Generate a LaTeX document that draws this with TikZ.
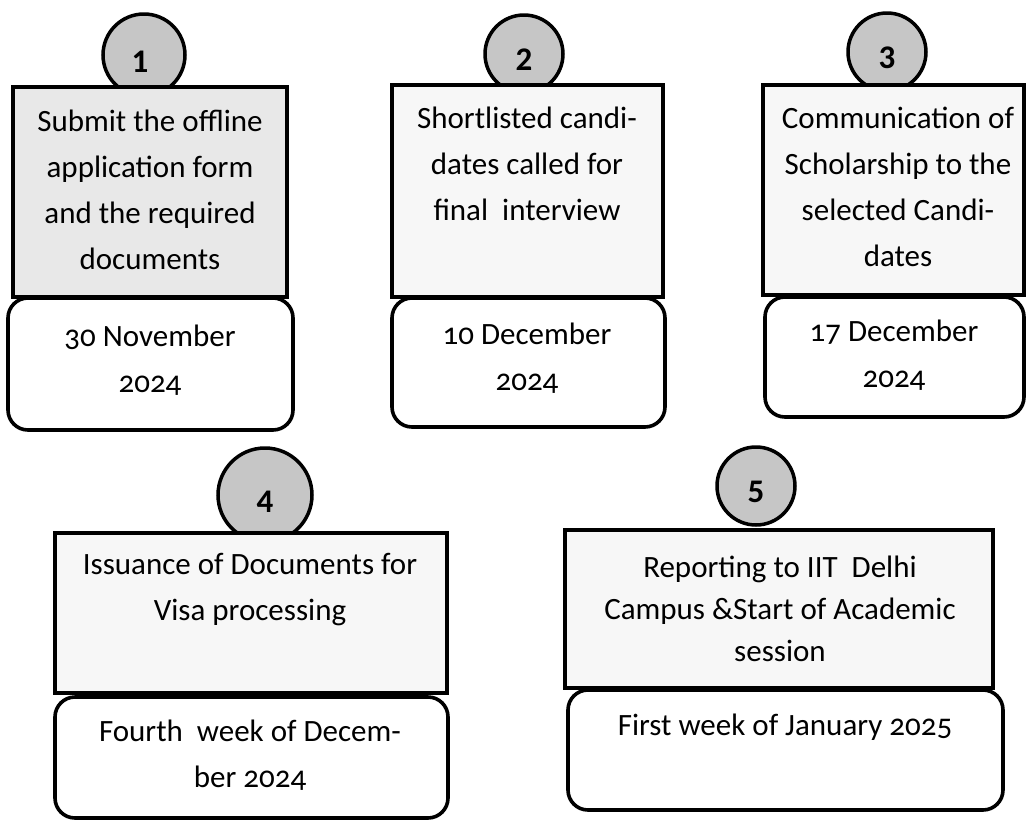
\documentclass[tikz,border=0pt]{standalone}
\usepackage{fontspec}
\setmainfont{Carlito}[Numbers=OldStyle]
\definecolor{circfill}{HTML}{C6C6C6}
\definecolor{boxone}{HTML}{E8E8E8}
\definecolor{boxrest}{HTML}{F7F7F7}
\tikzset{
  numcirc/.style={circle, draw=black, line width=3.5pt, fill=circfill, inner sep=0pt},
  digit/.style={font=\bfseries\fontsize{33}{33}\selectfont\addfontfeatures{Numbers=Lining}, inner sep=0pt},
  taskbox/.style={draw=black, line width=4pt, fill=boxrest, inner sep=0pt},
  datebox/.style={draw=black, line width=3.6pt, rounded corners=20pt, fill=white, inner sep=0pt},
  txt/.style={align=center, inner sep=0pt, font=\fontsize{31}{46}\selectfont},
  txtb/.style={align=center, inner sep=0pt, font=\fontsize{31}{42}\selectfont},
}
\begin{document}
\begin{tikzpicture}[x=1pt,y=-1pt]
\useasboundingbox (0,0) rectangle (1026,820);
\fill[white] (0,0) rectangle (1026,820);

% ---------- Step 1 ----------
\node[numcirc, minimum size=82pt] (c1) at (144,55) {};
\node[digit] (n1) at ([xshift=-4pt,yshift=-7pt]c1.center) {1};
\node[taskbox, fill=boxone, minimum width=274pt, minimum height=210pt] (r1) at (150,192) {};
\node[txt] (t1) at (150,190) {Submit the offline\\application form\\and the required\\documents};
\node[datebox, minimum width=285pt, minimum height=132pt] (d1) at (150.5,364) {};
\node[txt] (dt1) at (150,360) {30 November\\2024};

% ---------- Step 2 ----------
\node[numcirc, minimum size=78pt] (c2) at (524,54) {};
\node[digit] (n2) at ([yshift=-6pt]c2.center) {2};
\node[taskbox, minimum width=271pt, minimum height=212pt] (r2) at (527.5,191) {};
\node[txt] (t2) at (527,164) {Shortlisted candi-\\dates called for\\final~ interview};
\node[datebox, minimum width=273pt, minimum height=129pt] (d2) at (528.5,362.5) {};
\node[txt] (dt2) at (527,358) {10 December\\2024};

% ---------- Step 3 ----------
\node[numcirc, minimum size=78pt] (c3) at (887,52) {};
\node[digit] (n3) at ([yshift=-6pt]c3.center) {3};
\node[taskbox, minimum width=261pt, minimum height=210pt] (r3) at (893.5,190) {};
\node[txt] (t3) at (898,186.5) {Communication of\\Scholarship to the\\selected Candi-\\dates};
\node[datebox, minimum width=259pt, minimum height=120pt] (d3) at (894.5,357) {};
\node[txt] (dt3) at (894,355) {17 December\\2024};

% ---------- Step 4 ----------
\node[numcirc, minimum size=94pt] (c4) at (265,495) {};
\node[digit] (n4) at ([yshift=-7pt]c4.center) {4};
\node[taskbox, minimum width=392pt, minimum height=160pt] (r4) at (251,613) {};
\node[txt] (t4) at (250,590) {Issuance of Documents for\\Visa processing};
\node[datebox, minimum width=393pt, minimum height=121pt] (d4) at (251.5,757.5) {};
\node[txt] (dt4) at (250,755.5) {Fourth~ week of Decem-\\ber 2024};

% ---------- Step 5 ----------
\node[numcirc, minimum size=78pt] (c5) at (756,486) {};
\node[digit] (n5) at ([yshift=-6pt]c5.center) {5};
\node[taskbox, minimum width=428pt, minimum height=158pt] (r5) at (779,609) {};
\node[txtb] (t5) at (780,608.5) {Reporting to IIT~ Delhi\\Campus \&Start of Academic\\session};
\node[datebox, minimum width=435pt, minimum height=120pt] (d5) at (785.5,750) {};
\node[txt] (dt5) at (785,727) {First week of January 2025};
\end{tikzpicture}
\end{document}
